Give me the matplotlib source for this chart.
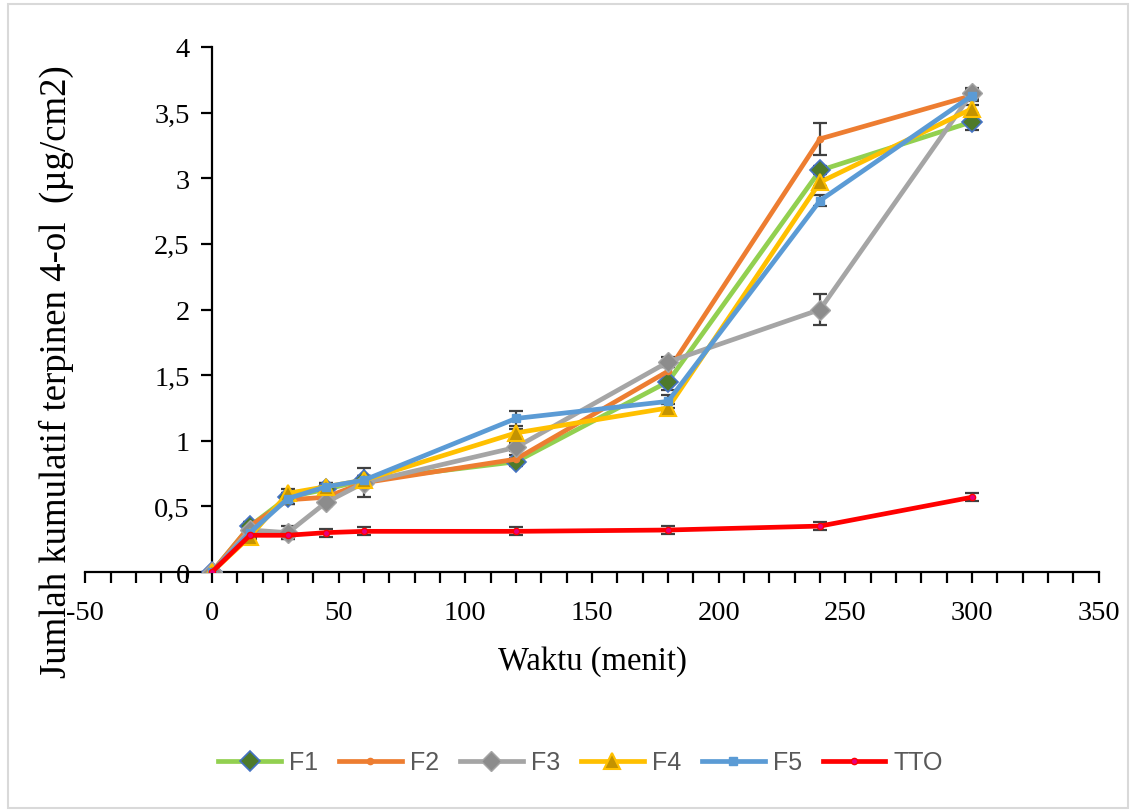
import matplotlib
matplotlib.use("Agg")
import matplotlib.pyplot as plt
from matplotlib.ticker import MultipleLocator, FuncFormatter
from matplotlib.patches import Rectangle

# ---- data ----
waktu = [0, 15, 30, 45, 60, 120, 180, 240, 300]
F1 = [0, 0.35, 0.57, 0.63, 0.70, 0.84, 1.45, 3.06, 3.43]
F2 = [0, 0.35, 0.55, 0.57, 0.68, 0.86, 1.53, 3.30, 3.63]
F3 = [0, 0.32, 0.30, 0.53, 0.68, 0.95, 1.60, 2.00, 3.65]
F4 = [0, 0.27, 0.60, 0.65, 0.70, 1.06, 1.25, 2.97, 3.53]
F5 = [0, 0.30, 0.56, 0.65, 0.70, 1.17, 1.30, 2.83, 3.63]
TTO = [0, 0.28, 0.28, 0.30, 0.31, 0.31, 0.32, 0.35, 0.57]

F1_err = [0, 0.03, 0.03, 0.03, 0.03, 0.03, 0.06, 0.03, 0.06]
F2_err = [0, 0.03, 0.03, 0.03, 0.03, 0.03, 0.03, 0.12, 0.04]
F3_err = [0, 0.03, 0.05, 0.03, 0.11, 0.03, 0.04, 0.12, 0.04]
F4_err = [0, 0.02, 0.03, 0.03, 0.03, 0.03, 0.03, 0.03, 0.03]
F5_err = [0, 0.03, 0.04, 0.03, 0.03, 0.06, 0.05, 0.04, 0.03]
TTO_err = [0, 0.03, 0.03, 0.03, 0.03, 0.03, 0.03, 0.03, 0.03]

names = ["F1", "F2", "F3", "F4", "F5", "TTO"]
series = [F1, F2, F3, F4, F5, TTO]
errors = [F1_err, F2_err, F3_err, F4_err, F5_err, TTO_err]
x_label = "Waktu (menit)"
y_label = "Jumlah kumulatif terpinen 4-ol  (\u00b5g/cm2)"

styles = [
    dict(color="#92d050", marker="D", ms=10, mfc="#4e7a2a", mec="#4472c4", mew=1.2),
    dict(color="#ed7d31", marker="o", ms=4.5, mfc="#ed7d31", mec="#ed7d31", mew=1),
    dict(color="#a5a5a5", marker="D", ms=10, mfc="#8c8c8c", mec="#a5a5a5", mew=1),
    dict(color="#ffc000", marker="^", ms=12, mfc="#c49300", mec="#ffc000", mew=1.5),
    dict(color="#5b9bd5", marker="s", ms=5.5, mfc="#5b9bd5", mec="#5b9bd5", mew=1),
    dict(color="#ff0000", marker="o", ms=4.5, mfc="#e6007e", mec="#ff0000", mew=1),
]

serif = ["Liberation Serif", "DejaVu Serif"]

fig = plt.figure(figsize=(11.34, 8.12), dpi=100)
ax = fig.add_axes([0.0752, 0.2943, 0.8937, 0.6466])

for name, y, e, st in zip(names, series, errors, styles):
    ax.errorbar(waktu, y, yerr=e, fmt="none", ecolor="#404040", elinewidth=1.6,
                capsize=5, capthick=1.6, zorder=2)
    ax.plot(waktu, y, lw=3.4, label=name, zorder=3, **st)

ax.set_xlim(-50, 350)
ax.set_ylim(0, 4)
ax.spines["top"].set_visible(False)
ax.spines["right"].set_visible(False)
ax.spines["left"].set_position(("data", 0))
ax.spines["left"].set_linewidth(1.6)
ax.spines["bottom"].set_linewidth(1.6)

ax.xaxis.set_major_locator(MultipleLocator(50))
ax.xaxis.set_minor_locator(MultipleLocator(10))
ax.yaxis.set_major_locator(MultipleLocator(0.5))
ax.yaxis.set_major_formatter(FuncFormatter(lambda v, p: ("%g" % v).replace(".", ",")))
ax.xaxis.set_major_formatter(FuncFormatter(lambda v, p: "%d" % v))
ax.tick_params(axis="x", which="both", direction="out", length=8, width=1.6, pad=12)
ax.tick_params(axis="y", which="major", direction="out", length=8, width=1.6, pad=8)
for lab in ax.get_xticklabels() + ax.get_yticklabels():
    lab.set_fontfamily(serif)
    lab.set_fontsize(20.5)

fig.text(0.522, 0.185, x_label, ha="center", va="center",
         fontfamily=serif, fontsize=23.5)
fig.text(0.050, 0.542, y_label, rotation=90, ha="center", va="center",
         fontfamily=serif, fontsize=26.5)

leg = fig.legend(loc="center", bbox_to_anchor=(0.512, 0.060), ncol=6, frameon=False,
                 prop=dict(family=["Liberation Sans", "DejaVu Sans"], size=18),
                 handlelength=2.5, columnspacing=0.85, handletextpad=0.32)
for t in leg.get_texts():
    t.set_color("#595959")

fig.patches.append(Rectangle((0.007, 0.004), 0.988, 0.99, transform=fig.transFigure,
                             fill=False, edgecolor="#d9d9d9", lw=1.5))

fig.savefig("out.png", dpi=100)
